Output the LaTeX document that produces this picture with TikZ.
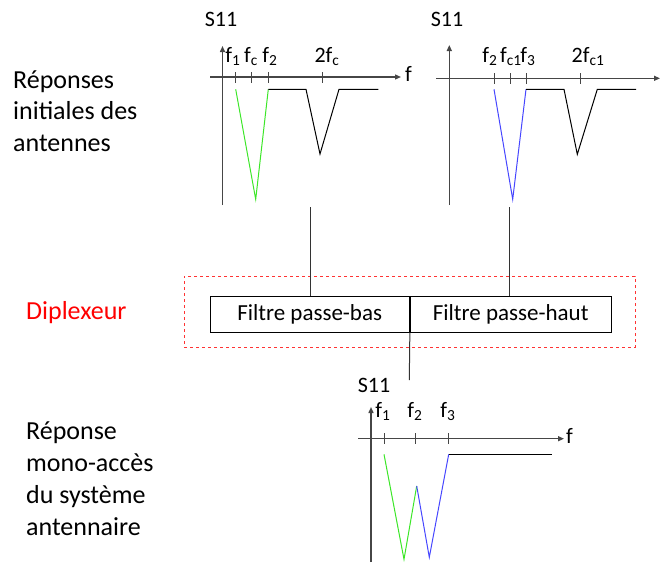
\documentclass[tikz,border=0pt]{standalone}
\usepackage{fontspec}
\setmainfont{Carlito}
\usetikzlibrary{arrows.meta}
\definecolor{lgreen}{RGB}{60,230,40}
\definecolor{lblue}{RGB}{70,70,255}
\definecolor{axgray}{RGB}{70,70,70}
\begin{document}
\begin{tikzpicture}[x=1pt,y=-1pt,
  axis/.style={draw=axgray, line width=1.2pt, -{Triangle[length=6pt,width=5pt]}},
  yaxis/.style={draw=axgray, line width=1.4pt, -{Triangle[length=6pt,width=5pt]}},
  tickmark/.style={draw=axgray, line width=1pt},
  curve/.style={line width=1pt, line join=miter},
  lbl/.style={font=\fontsize{22}{26}\selectfont, inner sep=0pt, anchor=base},
  bigtxt/.style={font=\fontsize{26}{31.8}\selectfont, inner sep=0pt, align=left, anchor=base west},
  filt/.style={draw=black, line width=1pt, minimum height=36pt, inner sep=0pt, font=\fontsize{23}{27}\selectfont},
  conn/.style={draw=black!80, line width=1pt}
]
\useasboundingbox (0,0) rectangle (661,562);

% ---------- left texts ----------
\node[bigtxt] (t1) at (13,151.7) {Réponses\\initiales des\\antennes};
\node[bigtxt, text=red] (t2) at (26,319) {Diplexeur};
\node[bigtxt] (t3) at (26,535) {Réponse\\mono-accès\\du système\\antennaire};

% ---------- plot 1 ----------
\node[lbl] (s1) at (221,27) {S11};
\coordinate (p1b) at (222.5,205);
\coordinate (p1t) at (222.5,46);
\draw[yaxis] (p1b) -- (p1t);
\coordinate (p1l) at (210,77);
\coordinate (p1r) at (401,77);
\draw[axis] (p1l) -- (p1r);
\node[font=\fontsize{22}{26}\selectfont, inner sep=0pt, anchor=west] (p1f) at (405,74) {f};
\foreach \x in {235.7,251.7,268.3,322.7}{
  \draw[tickmark] (\x,72) -- (\x,83);
}
\node[lbl] (l11) at (233,62) {f\textsubscript{1}};
\node[lbl] (l12) at (251,62) {f\textsubscript{c}};
\node[lbl] (l13) at (270,62) {f\textsubscript{2}};
\node[lbl] (l14) at (327,62) {2f\textsubscript{c}};
\draw[curve, lgreen] (235.7,89.3) -- (255.7,199.3) -- (268.3,89.3);
\draw[curve, black] (268.3,89.3) -- (306,89.3) -- (320,154) -- (339,89.3) -- (378.3,89.3);

% ---------- plot 2 ----------
\node[lbl] (s2) at (447,27) {S11};
\coordinate (p2b) at (449.3,205);
\coordinate (p2t) at (449.3,45);
\draw[yaxis] (p2b) -- (p2t);
\coordinate (p2l) at (436,78.3);
\coordinate (p2r) at (660,78.3);
\draw[axis] (p2l) -- (p2r);
\foreach \x in {494,510,526,580.3}{
  \draw[tickmark] (\x,73) -- (\x,84);
}
\node[lbl] (l21) at (490,62) {f\textsubscript{2}};
\node[lbl] (l22) at (511,62) {f\textsubscript{c1}};
\node[lbl] (l23) at (528,62) {f\textsubscript{3}};
\node[lbl] (l24) at (588,62) {2f\textsubscript{c1}};
\draw[curve, lblue] (494,89.3) -- (512.7,199.3) -- (526,89.3);
\draw[curve, black] (526,89.3) -- (564,89.3) -- (577.3,154.3) -- (597.3,89.3) -- (636,89.3);

% ---------- diplexeur ----------
\node[draw=red!80, dashed, line width=0.8pt, minimum width=451pt, minimum height=71pt, inner sep=0pt] (dip) at (409.7,311.7) {};
\node[filt, minimum width=199.3pt] (lp) at (309.7,314) {Filtre passe-bas};
\node[filt, minimum width=200.7pt, anchor=west] (hp) at (lp.east) {Filtre passe-haut};
\coordinate (c1) at (310,207);
\coordinate (c2) at (509.3,207);
\coordinate (c3) at (409.3,380);
\draw[conn] (c1) -- (c1 |- lp.north);
\draw[conn] (c2) -- (c2 |- hp.north);
\draw[conn] (lp.south east) -- (c3);

% ---------- plot 3 ----------
\node[lbl] (s3) at (374,392) {S11};
\coordinate (p3b) at (371,562);
\coordinate (p3t) at (371,407);
\draw[yaxis] (p3b) -- (p3t);
\coordinate (p3l) at (358,438.7);
\coordinate (p3r) at (564,438.7);
\draw[axis] (p3l) -- (p3r);
\node[font=\fontsize{22}{26}\selectfont, inner sep=0pt, anchor=west] (p3f) at (566,436) {f};
\foreach \x in {384,415.7,448.7}{
  \draw[tickmark] (\x,433) -- (\x,444);
}
\node[lbl] (l31) at (383,417) {f\textsubscript{1}};
\node[lbl] (l32) at (415,417) {f\textsubscript{2}};
\node[lbl] (l33) at (448,417) {f\textsubscript{3}};
\draw[curve, lgreen] (384,454.3) -- (404,559.3) -- (416.7,486);
\draw[curve, lblue] (416.7,486) -- (429.3,557.3) -- (448.7,454.3);
\draw[curve, black] (448.7,454.3) -- (552.3,454.3);
\end{tikzpicture}
\end{document}
